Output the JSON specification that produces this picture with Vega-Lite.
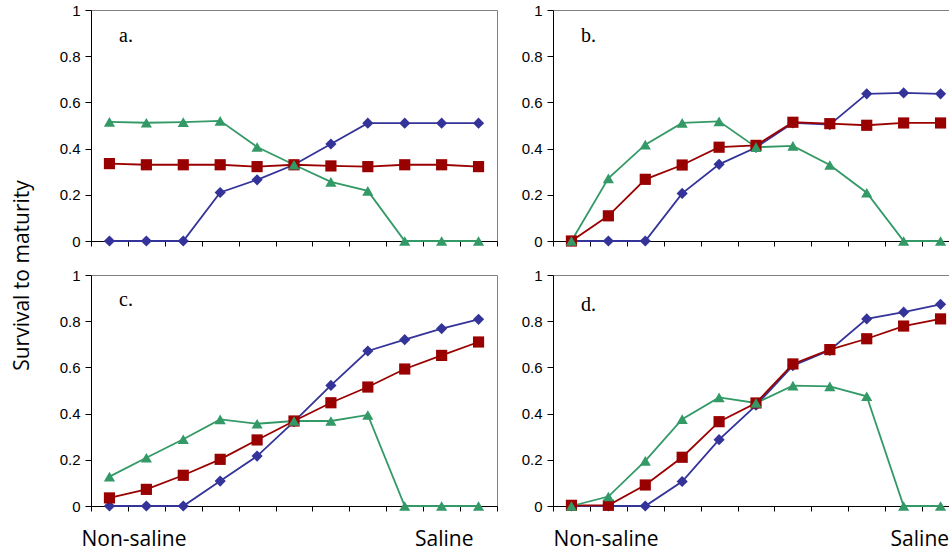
{
  "$schema": "https://vega.github.io/schema/vega-lite/v6.json",
  "background": "white",
  "padding": {"left": 10, "top": 2, "right": 0, "bottom": 0},
  "bounds": "flush",
  "columns": 2,
  "spacing": {"row": 34, "column": 56},
  "config": {
    "view": {"stroke": "#808080", "strokeWidth": 1},
    "axis": {"grid": false, "domainColor": "black", "tickColor": "black", "labelColor": "black", "titleColor": "black"},
    "title": {"anchor": "start", "frame": "group", "orient": "top", "offset": 0, "dx": 28, "dy": 47, "font": "Liberation Serif", "fontSize": 20, "fontWeight": "normal", "color": "black", "baseline": "alphabetic"}
  },
  "datasets": {
    "surv": [
      {"p": "a", "s": "S1", "x": 0, "y": 0}, {"p": "a", "s": "S1", "x": 1, "y": 0}, {"p": "a", "s": "S1", "x": 2, "y": 0}, {"p": "a", "s": "S1", "x": 3, "y": 0.21}, {"p": "a", "s": "S1", "x": 4, "y": 0.265}, {"p": "a", "s": "S1", "x": 5, "y": 0.33}, {"p": "a", "s": "S1", "x": 6, "y": 0.42}, {"p": "a", "s": "S1", "x": 7, "y": 0.51}, {"p": "a", "s": "S1", "x": 8, "y": 0.51}, {"p": "a", "s": "S1", "x": 9, "y": 0.51}, {"p": "a", "s": "S1", "x": 10, "y": 0.51},
      {"p": "a", "s": "S2", "x": 0, "y": 0.335}, {"p": "a", "s": "S2", "x": 1, "y": 0.33}, {"p": "a", "s": "S2", "x": 2, "y": 0.33}, {"p": "a", "s": "S2", "x": 3, "y": 0.33}, {"p": "a", "s": "S2", "x": 4, "y": 0.322}, {"p": "a", "s": "S2", "x": 5, "y": 0.33}, {"p": "a", "s": "S2", "x": 6, "y": 0.325}, {"p": "a", "s": "S2", "x": 7, "y": 0.322}, {"p": "a", "s": "S2", "x": 8, "y": 0.33}, {"p": "a", "s": "S2", "x": 9, "y": 0.33}, {"p": "a", "s": "S2", "x": 10, "y": 0.322},
      {"p": "a", "s": "S3", "x": 0, "y": 0.516}, {"p": "a", "s": "S3", "x": 1, "y": 0.512}, {"p": "a", "s": "S3", "x": 2, "y": 0.515}, {"p": "a", "s": "S3", "x": 3, "y": 0.52}, {"p": "a", "s": "S3", "x": 4, "y": 0.407}, {"p": "a", "s": "S3", "x": 5, "y": 0.33}, {"p": "a", "s": "S3", "x": 6, "y": 0.256}, {"p": "a", "s": "S3", "x": 7, "y": 0.217}, {"p": "a", "s": "S3", "x": 8, "y": 0}, {"p": "a", "s": "S3", "x": 9, "y": 0}, {"p": "a", "s": "S3", "x": 10, "y": 0},
      {"p": "b", "s": "S1", "x": 0, "y": 0}, {"p": "b", "s": "S1", "x": 1, "y": 0}, {"p": "b", "s": "S1", "x": 2, "y": 0}, {"p": "b", "s": "S1", "x": 3, "y": 0.206}, {"p": "b", "s": "S1", "x": 4, "y": 0.332}, {"p": "b", "s": "S1", "x": 5, "y": 0.405}, {"p": "b", "s": "S1", "x": 6, "y": 0.511}, {"p": "b", "s": "S1", "x": 7, "y": 0.504}, {"p": "b", "s": "S1", "x": 8, "y": 0.637}, {"p": "b", "s": "S1", "x": 9, "y": 0.641}, {"p": "b", "s": "S1", "x": 10, "y": 0.637},
      {"p": "b", "s": "S2", "x": 0, "y": 0}, {"p": "b", "s": "S2", "x": 1, "y": 0.109}, {"p": "b", "s": "S2", "x": 2, "y": 0.267}, {"p": "b", "s": "S2", "x": 3, "y": 0.329}, {"p": "b", "s": "S2", "x": 4, "y": 0.406}, {"p": "b", "s": "S2", "x": 5, "y": 0.414}, {"p": "b", "s": "S2", "x": 6, "y": 0.514}, {"p": "b", "s": "S2", "x": 7, "y": 0.508}, {"p": "b", "s": "S2", "x": 8, "y": 0.501}, {"p": "b", "s": "S2", "x": 9, "y": 0.511}, {"p": "b", "s": "S2", "x": 10, "y": 0.511},
      {"p": "b", "s": "S3", "x": 0, "y": 0}, {"p": "b", "s": "S3", "x": 1, "y": 0.271}, {"p": "b", "s": "S3", "x": 2, "y": 0.417}, {"p": "b", "s": "S3", "x": 3, "y": 0.511}, {"p": "b", "s": "S3", "x": 4, "y": 0.518}, {"p": "b", "s": "S3", "x": 5, "y": 0.406}, {"p": "b", "s": "S3", "x": 6, "y": 0.412}, {"p": "b", "s": "S3", "x": 7, "y": 0.329}, {"p": "b", "s": "S3", "x": 8, "y": 0.209}, {"p": "b", "s": "S3", "x": 9, "y": 0}, {"p": "b", "s": "S3", "x": 10, "y": 0},
      {"p": "c", "s": "S1", "x": 0, "y": 0}, {"p": "c", "s": "S1", "x": 1, "y": 0}, {"p": "c", "s": "S1", "x": 2, "y": 0}, {"p": "c", "s": "S1", "x": 3, "y": 0.108}, {"p": "c", "s": "S1", "x": 4, "y": 0.216}, {"p": "c", "s": "S1", "x": 5, "y": 0.365}, {"p": "c", "s": "S1", "x": 6, "y": 0.522}, {"p": "c", "s": "S1", "x": 7, "y": 0.671}, {"p": "c", "s": "S1", "x": 8, "y": 0.72}, {"p": "c", "s": "S1", "x": 9, "y": 0.768}, {"p": "c", "s": "S1", "x": 10, "y": 0.808},
      {"p": "c", "s": "S2", "x": 0, "y": 0.035}, {"p": "c", "s": "S2", "x": 1, "y": 0.072}, {"p": "c", "s": "S2", "x": 2, "y": 0.133}, {"p": "c", "s": "S2", "x": 3, "y": 0.202}, {"p": "c", "s": "S2", "x": 4, "y": 0.286}, {"p": "c", "s": "S2", "x": 5, "y": 0.368}, {"p": "c", "s": "S2", "x": 6, "y": 0.447}, {"p": "c", "s": "S2", "x": 7, "y": 0.515}, {"p": "c", "s": "S2", "x": 8, "y": 0.593}, {"p": "c", "s": "S2", "x": 9, "y": 0.652}, {"p": "c", "s": "S2", "x": 10, "y": 0.71},
      {"p": "c", "s": "S3", "x": 0, "y": 0.127}, {"p": "c", "s": "S3", "x": 1, "y": 0.209}, {"p": "c", "s": "S3", "x": 2, "y": 0.289}, {"p": "c", "s": "S3", "x": 3, "y": 0.375}, {"p": "c", "s": "S3", "x": 4, "y": 0.356}, {"p": "c", "s": "S3", "x": 5, "y": 0.368}, {"p": "c", "s": "S3", "x": 6, "y": 0.368}, {"p": "c", "s": "S3", "x": 7, "y": 0.394}, {"p": "c", "s": "S3", "x": 8, "y": 0}, {"p": "c", "s": "S3", "x": 9, "y": 0}, {"p": "c", "s": "S3", "x": 10, "y": 0},
      {"p": "d", "s": "S1", "x": 0, "y": 0}, {"p": "d", "s": "S1", "x": 1, "y": 0}, {"p": "d", "s": "S1", "x": 2, "y": 0}, {"p": "d", "s": "S1", "x": 3, "y": 0.106}, {"p": "d", "s": "S1", "x": 4, "y": 0.287}, {"p": "d", "s": "S1", "x": 5, "y": 0.436}, {"p": "d", "s": "S1", "x": 6, "y": 0.608}, {"p": "d", "s": "S1", "x": 7, "y": 0.674}, {"p": "d", "s": "S1", "x": 8, "y": 0.81}, {"p": "d", "s": "S1", "x": 9, "y": 0.839}, {"p": "d", "s": "S1", "x": 10, "y": 0.873},
      {"p": "d", "s": "S2", "x": 0, "y": 0.003}, {"p": "d", "s": "S2", "x": 1, "y": 0.003}, {"p": "d", "s": "S2", "x": 2, "y": 0.091}, {"p": "d", "s": "S2", "x": 3, "y": 0.211}, {"p": "d", "s": "S2", "x": 4, "y": 0.365}, {"p": "d", "s": "S2", "x": 5, "y": 0.446}, {"p": "d", "s": "S2", "x": 6, "y": 0.615}, {"p": "d", "s": "S2", "x": 7, "y": 0.677}, {"p": "d", "s": "S2", "x": 8, "y": 0.724}, {"p": "d", "s": "S2", "x": 9, "y": 0.779}, {"p": "d", "s": "S2", "x": 10, "y": 0.81},
      {"p": "d", "s": "S3", "x": 0, "y": 0}, {"p": "d", "s": "S3", "x": 1, "y": 0.041}, {"p": "d", "s": "S3", "x": 2, "y": 0.195}, {"p": "d", "s": "S3", "x": 3, "y": 0.376}, {"p": "d", "s": "S3", "x": 4, "y": 0.47}, {"p": "d", "s": "S3", "x": 5, "y": 0.446}, {"p": "d", "s": "S3", "x": 6, "y": 0.521}, {"p": "d", "s": "S3", "x": 7, "y": 0.518}, {"p": "d", "s": "S3", "x": 8, "y": 0.475}, {"p": "d", "s": "S3", "x": 9, "y": 0}, {"p": "d", "s": "S3", "x": 10, "y": 0}
    ]
  },
  "concat": [
    {
      "width": 406, "height": 231,
      "title": {"text": "a."},
      "data": {"name": "surv"},
      "transform": [{"filter": "datum.p == 'a'"}],
      "encoding": {
        "x": {"field": "x", "type": "quantitative", "scale": {"domain": [-0.5, 10.5], "nice": false, "zero": false},
              "axis": {"values": [-0.5, 0.5, 1.5, 2.5, 3.5, 4.5, 5.5, 6.5, 7.5, 8.5, 9.5, 10.5], "labels": false, "tickSize": 5, "title": null}},
        "y": {"field": "y", "type": "quantitative", "scale": {"domain": [0, 1], "nice": false},
              "axis": {"values": [0, 0.2, 0.4, 0.6, 0.8, 1], "format": "~g", "tickSize": 6, "labelPadding": 5, "labelFont": "Liberation Sans", "labelFontSize": 15, "title": null}},
        "color": {"field": "s", "type": "nominal", "scale": {"domain": ["S1", "S2", "S3"], "range": ["#333399", "#990000", "#339966"]}, "legend": null}
      },
      "layer": [
        {"mark": {"type": "line", "strokeWidth": 1.8}},
        {"mark": {"type": "point", "filled": true, "opacity": 1, "size": 125},
         "encoding": {"shape": {"field": "s", "type": "nominal", "scale": {"domain": ["S1", "S2", "S3"], "range": ["diamond", "square", "triangle-up"]}, "legend": null}}}
      ]
    },
    {
      "width": 396, "height": 231,
      "title": {"text": "b."},
      "view": {"stroke": null},
      "data": {"name": "surv"},
      "transform": [{"filter": "datum.p == 'b'"}],
      "resolve": {"axis": {"x": "independent"}},
      "encoding": {
        "y": {"field": "y", "type": "quantitative", "scale": {"domain": [0, 1], "nice": false},
              "axis": {"values": [0, 0.2, 0.4, 0.6, 0.8, 1], "format": "~g", "tickSize": 6, "labelPadding": 5, "labelFont": "Liberation Sans", "labelFontSize": 15, "title": null}},
        "color": {"field": "s", "type": "nominal", "scale": {"domain": ["S1", "S2", "S3"], "range": ["#333399", "#990000", "#339966"]}, "legend": null}
      },
      "layer": [
        {"mark": {"type": "line", "strokeWidth": 1.8},
         "encoding": {"x": {"field": "x", "type": "quantitative", "scale": {"domain": [-0.5, 10.229], "nice": false, "zero": false},
              "axis": {"values": [-0.5, 0.5, 1.5, 2.5, 3.5, 4.5, 5.5, 6.5, 7.5, 8.5, 9.5], "labels": false, "tickSize": 5, "title": null}}}},
        {"mark": {"type": "point", "filled": true, "opacity": 1, "size": 125},
         "encoding": {"x": {"field": "x", "type": "quantitative", "axis": {"orient": "top", "ticks": false, "labels": false, "title": null, "domainColor": "#808080"}},
                      "shape": {"field": "s", "type": "nominal", "scale": {"domain": ["S1", "S2", "S3"], "range": ["diamond", "square", "triangle-up"]}, "legend": null}}}
      ]
    },
    {
      "width": 406, "height": 231,
      "title": {"text": "c.", "dy": 134},
      "data": {"name": "surv"},
      "transform": [{"filter": "datum.p == 'c'"}],
      "encoding": {
        "x": {"field": "x", "type": "quantitative", "scale": {"domain": [-0.5, 10.5], "nice": false, "zero": false},
              "axis": {"values": [-0.5, 0.5, 1.5, 2.5, 3.5, 4.5, 5.5, 6.5, 7.5, 8.5, 9.5, 10.5], "tickSize": 5, "title": null,
                       "labelExpr": "datum.value < 0 ? 'Non-saline' : (datum.value > 10 ? 'Saline' : '')",
                       "labelAlign": {"condition": {"test": "datum.value < 0", "value": "left"}, "value": "right"},
                       "labelOffset": {"condition": {"test": "datum.value < 0", "value": -10}, "value": -24},
                       "labelBaseline": "alphabetic", "labelPadding": 34, "labelFont": "Open Sans", "labelFontSize": 21,
                       "labelOverlap": false, "labelFlush": false, "labelBound": false}},
        "y": {"field": "y", "type": "quantitative", "scale": {"domain": [0, 1], "nice": false},
              "axis": {"values": [0, 0.2, 0.4, 0.6, 0.8, 1], "format": "~g", "tickSize": 6, "labelPadding": 5, "labelFont": "Liberation Sans", "labelFontSize": 15,
                       "title": "Survival to maturity", "titleFont": "Open Sans", "titleFontSize": 21, "titleFontWeight": "normal", "titleY": 0, "titlePadding": 27}},
        "color": {"field": "s", "type": "nominal", "scale": {"domain": ["S1", "S2", "S3"], "range": ["#333399", "#990000", "#339966"]}, "legend": null}
      },
      "layer": [
        {"mark": {"type": "line", "strokeWidth": 1.8}},
        {"mark": {"type": "point", "filled": true, "opacity": 1, "size": 125},
         "encoding": {"shape": {"field": "s", "type": "nominal", "scale": {"domain": ["S1", "S2", "S3"], "range": ["diamond", "square", "triangle-up"]}, "legend": null}}}
      ]
    },
    {
      "width": 396, "height": 231,
      "title": {"text": "d.", "dy": 51},
      "view": {"stroke": null},
      "data": {"name": "surv"},
      "transform": [{"filter": "datum.p == 'd'"}],
      "resolve": {"axis": {"x": "independent"}},
      "encoding": {
        "y": {"field": "y", "type": "quantitative", "scale": {"domain": [0, 1], "nice": false},
              "axis": {"values": [0, 0.2, 0.4, 0.6, 0.8, 1], "format": "~g", "tickSize": 6, "labelPadding": 5, "labelFont": "Liberation Sans", "labelFontSize": 15, "title": null}},
        "color": {"field": "s", "type": "nominal", "scale": {"domain": ["S1", "S2", "S3"], "range": ["#333399", "#990000", "#339966"]}, "legend": null}
      },
      "layer": [
        {"mark": {"type": "line", "strokeWidth": 1.8},
         "encoding": {"x": {"field": "x", "type": "quantitative", "scale": {"domain": [-0.5, 10.229], "nice": false, "zero": false},
              "axis": {"values": [-0.5, 0.5, 1.5, 2.5, 3.5, 4.5, 5.5, 6.5, 7.5, 8.5, 9.5], "tickSize": 5, "title": null,
                       "labelExpr": "datum.value < 0 ? 'Non-saline' : (datum.value > 9 ? 'Saline' : '')",
                       "labelAlign": "left",
                       "labelOffset": {"condition": {"test": "datum.value < 0", "value": 0}, "value": -32},
                       "labelBaseline": "alphabetic", "labelPadding": 34, "labelFont": "Open Sans", "labelFontSize": 21,
                       "labelOverlap": false, "labelFlush": false, "labelBound": false}}}},
        {"mark": {"type": "point", "filled": true, "opacity": 1, "size": 125},
         "encoding": {"x": {"field": "x", "type": "quantitative", "axis": {"orient": "top", "ticks": false, "labels": false, "title": null, "domainColor": "#808080"}},
                      "shape": {"field": "s", "type": "nominal", "scale": {"domain": ["S1", "S2", "S3"], "range": ["diamond", "square", "triangle-up"]}, "legend": null}}}
      ]
    }
  ]
}
